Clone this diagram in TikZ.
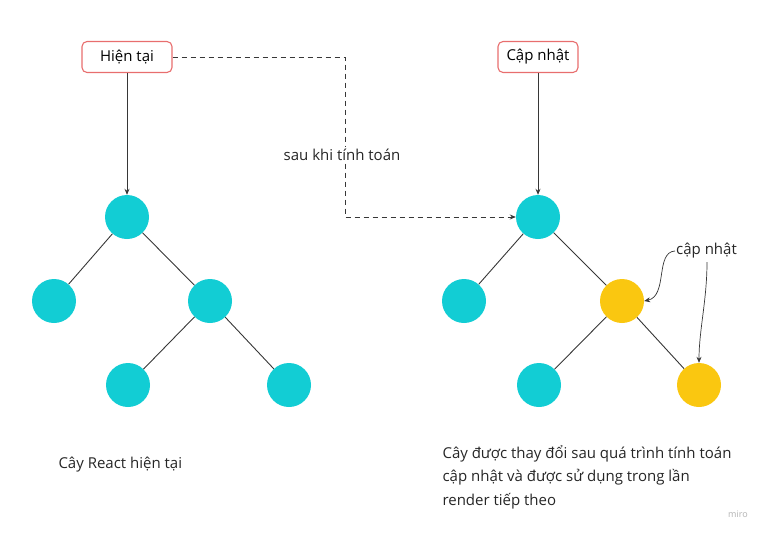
\documentclass[tikz,border=0pt]{standalone}
\usepackage{fontspec}
\setmainfont{Open Sans}
\usetikzlibrary{arrows.meta,positioning,calc}
\definecolor{mirocyan}{RGB}{18,205,212}
\definecolor{miroyellow}{RGB}{250,199,16}
\definecolor{boxred}{RGB}{232,110,110}
\definecolor{linegray}{RGB}{55,55,55}

\tikzset{
  statebox/.style={draw=boxred,line width=1.1pt,fill=white,rounded corners=5pt,minimum height=31pt,
    inner sep=0pt,font=\fontsize{15}{17}\selectfont},
  treenode/.style={circle,fill=mirocyan,minimum size=44pt,inner sep=0pt},
  changed/.style={treenode,fill=miroyellow},
  edge/.style={draw=linegray,line width=0.9pt},
  link/.style={edge,-{Stealth[length=6pt,width=5pt]}},
  caption/.style={font=\fontsize{15}{23.5}\selectfont,align=left,text=black!85},
}

\begin{document}
\begin{tikzpicture}[x=1pt,y=-1pt]
  \useasboundingbox (0,0) rectangle (768,536);
  % ---------- left: current tree ----------
  \node[statebox,minimum width=90pt] (current) at (127,57) {Hiện tại};
  \node[treenode] (c0) at (127,217) {};
  \node[treenode] (c1) at (54,301) {};
  \node[treenode] (c2) at (210,301) {};
  \node[treenode] (c3) at (128,385) {};
  \node[treenode] (c4) at (289,385) {};
  \foreach \a/\b in {c0/c1,c0/c2,c2/c3,c2/c4}
    \draw[edge] (\a) -- (\b);
  \draw[link] (current) -- (c0);
  \node[caption,anchor=west] (capleft) at (55,465) {Cây React hiện tại};
  % ---------- right: updated tree ----------
  \node[statebox,minimum width=80pt] (updated) at (538,57) {Cập nhật};
  \node[treenode] (u0) at (538,217) {};
  \node[treenode] (u1) at (464,301) {};
  \node[changed] (u2) at (622,301) {};
  \node[treenode] (u3) at (539,385) {};
  \node[changed] (u4) at (699,385) {};
  \foreach \a/\b in {u0/u1,u0/u2,u2/u3,u2/u4}
    \draw[edge] (\a) -- (\b);
  \draw[link] (updated) -- (u0);
  \node[caption,anchor=west] (capright) at (439,477)
    {Cây được thay đổi sau quá trình tính toán\\cập nhật và được sử dụng trong lần\\render tiếp theo};
  % ---------- between: dashed link ----------
  \coordinate (bendtop) at (345,57);
  \coordinate (bendlow) at (345,217);
  \draw[link,dashed,dash pattern=on 5pt off 4pt] (current.east) -- (bendtop) -- (bendlow) -- (u0.west);
  \node[caption,fill=white,inner sep=2pt] (calc) at (342,155) {sau khi tính toán};
  % ---------- changed marks ----------
  \node[caption,anchor=west,inner sep=1pt] (mark) at (675,251) {cập nhật};
  \draw[link,line width=0.7pt] (mark.west) .. controls (655,252) and (668,296) .. (u2.east);
  \draw[link,line width=0.7pt] (707,262) .. controls (707,300) and (699,330) .. (u4.north);
  \node[text=black!30,font=\fontsize{9}{10}\selectfont] (miro) at (738,514) {miro};
\end{tikzpicture}
\end{document}
